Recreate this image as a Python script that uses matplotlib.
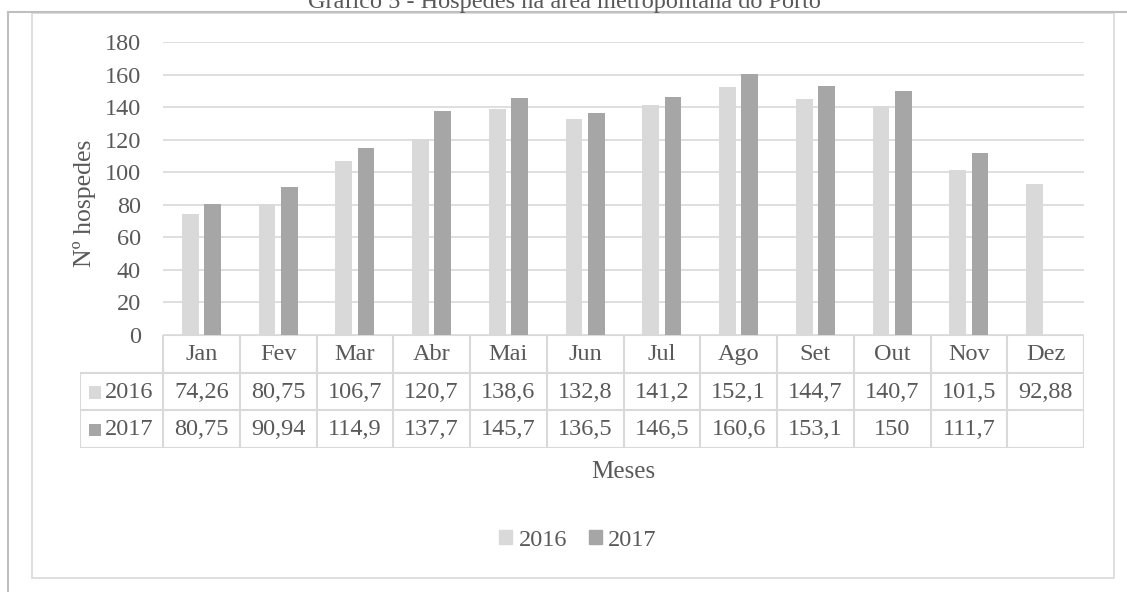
import matplotlib.pyplot as plt
import matplotlib.patches as mpatches
from matplotlib.lines import Line2D

months = ["Jan", "Fev", "Mar", "Abr", "Mai", "Jun", "Jul", "Ago", "Set", "Out", "Nov", "Dez"]
hosp_2016 = [74.26, 80.75, 106.7, 120.7, 138.6, 132.8, 141.2, 152.1, 144.7, 140.7, 101.5, 92.88]
hosp_2017 = [80.75, 90.94, 114.9, 137.7, 145.7, 136.5, 146.5, 160.6, 153.1, 150, 111.7, None]
series_names = ["2016", "2017"]

c16 = "#d9d9d9"
c17 = "#a6a6a6"
txt = "#595959"
grid = "#d9d9d9"
FONT = "Liberation Serif"
FS = 17.5

plt.rcParams['font.family'] = [FONT, 'DejaVu Serif']

W, H = 1127, 592
fig = plt.figure(figsize=(W / 100, H / 100), dpi=100)


def fx(px):
    return px / W


def fy(py):
    return 1 - py / H


# outer frame lines (page/object border)
fig.add_artist(Line2D([fx(8), fx(8)], [fy(12), 0], color="#bfbfbf", lw=1.5))
fig.add_artist(Line2D([fx(8), 1], [fy(12), fy(12)], color="#bfbfbf", lw=1.5))
# chart area border
fig.add_artist(mpatches.Rectangle((fx(32), fy(578)), fx(1114 - 32), (578 - 13) / H,
                                  fill=False, ec="#d9d9d9", lw=1.2))

# title, cut at the top as in the source
fig.text(fx(564), fy(8), "Gráfico 5 - Hóspedes na área metropolitana do Porto",
         ha="center", va="baseline", fontsize=FS, color=txt)

# plot area
x0, x1 = 163, 1084
ytop, ybot = 42, 335
ax = fig.add_axes([fx(x0), fy(ybot), fx(x1 - x0), (ybot - ytop) / H])
n = len(months)
xs = list(range(n))
bw = 0.22
off = 0.145
ax.bar([x - off for x in xs], hosp_2016, width=bw, color=c16, zorder=3)
vals17 = [v if v is not None else 0 for v in hosp_2017]
ax.bar([x + off for x in xs], vals17, width=bw, color=c17, zorder=3)
ax.set_xlim(-0.5, n - 0.5)
ax.set_ylim(0, 180)
ax.set_yticks(range(0, 181, 20))
ax.yaxis.grid(True, color=grid, lw=1.2, zorder=0)
ax.set_xticks([])
for s in ax.spines.values():
    s.set_visible(False)
ax.tick_params(axis="y", length=0, labelsize=FS, labelcolor=txt, pad=16)

fig.text(fx(84), fy(203), "Nº hospedes", rotation=90, ha="center", va="center",
         fontsize=FS + 1, color=txt)

# data table below the axis
tl = 80
tb = 448
lw_cols = (x0 - tl) / ((x1 - x0) / n)
tax = fig.add_axes([fx(tl), fy(tb), fx(x1 - tl), (tb - ybot) / H])
tax.set_xlim(-0.5 - lw_cols, n - 0.5)
tax.set_ylim(3, 0)
tax.axis("off")
lc = "#d9d9d9"
lwid = 1.5
tax.plot([-0.5, n - 0.5], [0, 0], color=lc, lw=lwid)
for r in (1, 2, 3):
    tax.plot([-0.5 - lw_cols, n - 0.5], [r, r], color=lc, lw=lwid)
tax.plot([-0.5 - lw_cols] * 2, [1, 3], color=lc, lw=lwid)
for i in range(n + 1):
    tax.plot([i - 0.5] * 2, [0, 3], color=lc, lw=lwid)
for i, m in enumerate(months):
    tax.text(i, 0.52, m, ha="center", va="center", fontsize=FS, color=txt)


def fmt(v):
    if v is None:
        return ""
    s = ("%.2f" % v).rstrip("0").rstrip(".")
    return s.replace(".", ",")


rows = [hosp_2016, hosp_2017]
colors = [c16, c17]
for r, (name, vals, col) in enumerate(zip(series_names, rows, colors)):
    yc = r + 1.52
    tax.add_patch(mpatches.Rectangle((-0.5 - lw_cols + 0.12, yc - 0.17), 0.16, 0.34,
                                     color=col, lw=0))
    tax.text(-0.5 - lw_cols + 0.33, yc, name, ha="left", va="center", fontsize=FS, color=txt)
    for i, v in enumerate(vals):
        tax.text(i, yc, fmt(v), ha="center", va="center", fontsize=FS, color=txt)

fig.text(fx(623), fy(472), "Meses", ha="center", va="center", fontsize=FS + 0.5, color=txt)

# legend
handles = [mpatches.Patch(color=c16, label=series_names[0]),
           mpatches.Patch(color=c17, label=series_names[1])]
fig.legend(handles=handles, loc="center", bbox_to_anchor=(fx(578), fy(540)), ncol=2,
           frameon=False, fontsize=FS, labelcolor=txt, handlelength=0.55, handleheight=0.55,
           handletextpad=0.25, columnspacing=0.9)

fig.savefig("out.png", dpi=100)
